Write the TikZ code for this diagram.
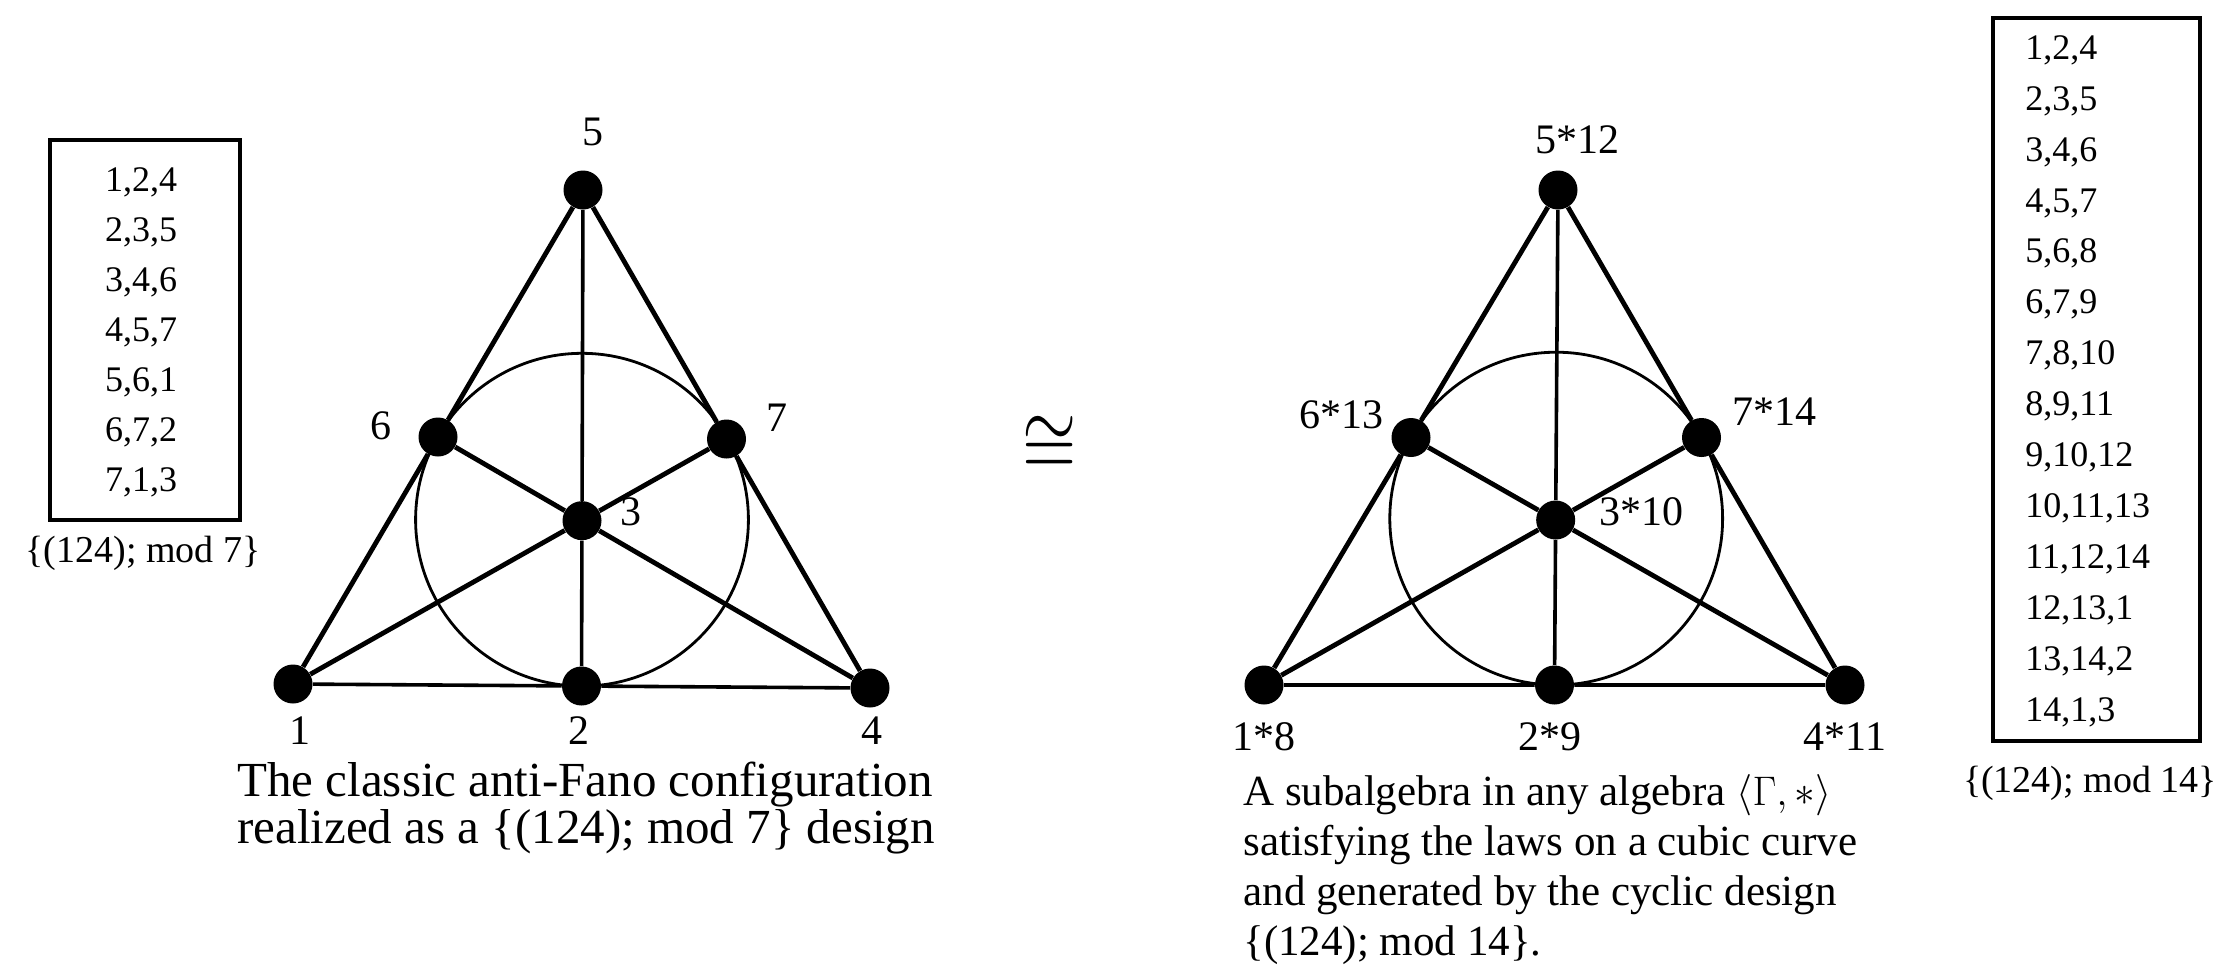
\documentclass[tikz,border=0pt]{standalone}
\usepackage{graphicx}
\usepackage{fontspec}
\setmainfont{Liberation Serif}
\usetikzlibrary{calc}
\begin{document}
\begin{tikzpicture}[x=0.5bp,y=-0.5bp,
  dot/.style={circle,fill=black,inner sep=0pt,minimum size=19.5bp},
  edge/.style={line width=2.4bp},
  thinedge/.style={line width=1.8bp},
  ring/.style={line width=1.4bp},
  lbl/.style={inner sep=0pt,font=\fontsize{21bp}{25bp}\selectfont},
  boxframe/.style={draw,line width=1.9bp,inner sep=0pt},
  rows/.style={inner sep=0pt,align=center,font=\fontsize{18bp}{25bp}\selectfont},
  modlbl/.style={inner sep=0pt,font=\fontsize{19bp}{22bp}\selectfont},
  capL/.style={inner sep=0pt,anchor=base west,font=\fontsize{24.5bp}{25bp}\selectfont},
  capR/.style={inner sep=0pt,anchor=base west,font=\fontsize{21.5bp}{25bp}\selectfont},
]
\fill[white] (0,0) rectangle (2229,967);
\useasboundingbox (0,0) rectangle (2229,967);

% ---------- left configuration ----------
\coordinate (A1) at (293,684);
\coordinate (A4) at (870,688);
\coordinate (A5) at (583,190);
\coordinate (A6) at ($(A5)!0.5!(A1)$);
\coordinate (A7) at ($(A5)!0.5!(A4)$);
\coordinate (A2) at ($(A1)!0.5!(A4)$);
\coordinate (A3) at ($(A5)!2/3!(A2)$);
\draw[ring] (582,519.7) circle[radius=83.2bp];
\foreach \i in {1,...,7} {\node[dot] (a\i) at (A\i) {};}
\draw[edge] (a5)--(a6) (a6)--(a1) (a5)--(a7) (a7)--(a4)
            (a6)--(a3) (a3)--(a4) (a7)--(a3) (a3)--(a1);
\draw[thinedge] (a1)--(a2) (a2)--(a4) (a5)--(a3) (a3)--(a2);
\node[lbl] (la5) at (593,132) {5};
\node[lbl] (la6) at (381,426) {6};
\node[lbl] (la7) at (777,418) {7};
\node[lbl] (la3) at (631,512) {3};
\node[lbl] (la1) at (300,731) {1};
\node[lbl] (la2) at (579,731) {2};
\node[lbl] (la4) at (872,731) {4};

% ---------- right configuration ----------
\coordinate (B1) at (1264,685);
\coordinate (B4) at (1845,685);
\coordinate (B5) at (1558,190);
\coordinate (B6) at ($(B5)!0.5!(B1)$);
\coordinate (B7) at ($(B5)!0.5!(B4)$);
\coordinate (B2) at ($(B1)!0.5!(B4)$);
\coordinate (B3) at ($(B5)!2/3!(B2)$);
\draw[ring] (1556.2,518.6) circle[radius=83.2bp];
\foreach \i in {1,...,7} {\node[dot] (b\i) at (B\i) {};}
\draw[edge] (b5)--(b6) (b6)--(b1) (b5)--(b7) (b7)--(b4)
            (b6)--(b3) (b3)--(b4) (b7)--(b3) (b3)--(b1);
\draw[thinedge] (b1)--(b2) (b2)--(b4) (b5)--(b3) (b3)--(b2);
\node[lbl] (lb5) at (1577,140) {5*12};
\node[lbl] (lb6) at (1341,415) {6*13};
\node[lbl] (lb7) at (1774,412) {7*14};
\node[lbl] (lb3) at (1641,512) {3*10};
\node[lbl] (lb1) at (1264,737) {1*8};
\node[lbl] (lb2) at (1550,737) {2*9};
\node[lbl] (lb4) at (1845,737) {4*11};

% ---------- isomorphism sign ----------
\node[inner sep=0pt] (iso) at (1050,446) {\scalebox{3.5}[4.4]{$\cong$}};

% ---------- left table ----------
\node[boxframe,minimum width=95bp,minimum height=190bp] (lbox) at (145,330) {};
\node[rows] (lrows) at (141,332) {1,2,4\\2,3,5\\3,4,6\\4,5,7\\5,6,1\\6,7,2\\7,1,3};
\node[modlbl] (lmod) at (143,553) {\{(124); mod 7\}};

% ---------- right table ----------
\node[boxframe,minimum width=103.5bp,minimum height=361.5bp] (rbox) at (2096.5,379.5) {};
\node[rows,align=left,anchor=west,font=\fontsize{18bp}{25.45bp}\selectfont] (rrows) at (2025,381)
  {1,2,4\\2,3,5\\3,4,6\\4,5,7\\5,6,8\\6,7,9\\7,8,10\\8,9,11\\9,10,12\\10,11,13\\11,12,14\\12,13,1\\13,14,2\\14,1,3};
\node[modlbl] (rmod) at (2090,783) {\{(124); mod 14\}};

% ---------- captions ----------
\node[capL] (cl1) at (237,796) {The classic anti-Fano configuration};
\node[capL] (cl2) at (237,843) {realized as a \{(124); mod 7\} design};
\node[capR] (cr1) at (1243,805) {A subalgebra in any algebra $\langle\Gamma,{*}\rangle$};
\node[capR] (cr2) at (1243,855) {satisfying the laws on a cubic curve};
\node[capR] (cr3) at (1243,905) {and generated by the cyclic design};
\node[capR] (cr4) at (1243,955) {\{(124); mod 14\}.};
\end{tikzpicture}
\end{document}
